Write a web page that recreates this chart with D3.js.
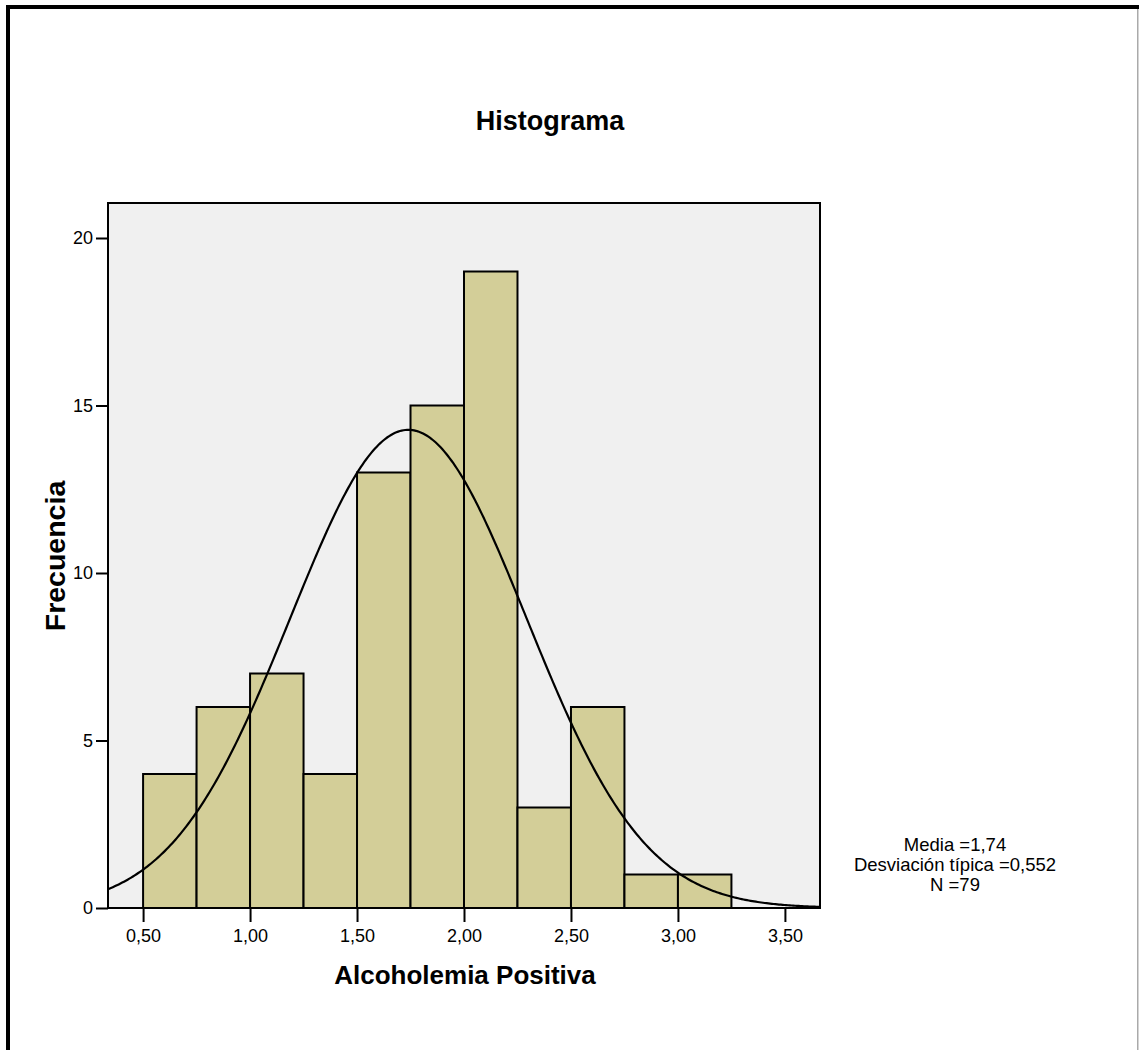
<!DOCTYPE html>
<html>
<head>
<meta charset="utf-8">
<script src="https://cdn.jsdelivr.net/npm/d3@7"></script>
<style>
  body { margin: 0; background: #fff; }
  text { font-family: "Liberation Sans", Arial, sans-serif; }
</style>
</head>
<body>
<div id="chart"></div>
<script>
// histogram data
var binStarts = [0.50, 0.75, 1.00, 1.25, 1.50, 1.75, 2.00, 2.25, 2.50, 2.75, 3.00];
var counts = [4, 6, 7, 4, 13, 15, 19, 3, 6, 1, 1];
var binWidth = 0.25;
var xTicks = [0.5, 1.0, 1.5, 2.0, 2.5, 3.0, 3.5];
var yTicks = [0, 5, 10, 15, 20];
var statLabels = ["Media =1,74", "Desviación típica =0,552", "N =79"];
var media = 1.74, desviacion = 0.552, n = 79;

var width = 1139, height = 1050;
var plot = { left: 108, top: 203, right: 820, bottom: 908 };

var es = d3.formatLocale({ decimal: ",", thousands: ".", grouping: [3], currency: ["", ""] });
var fmt = es.format(".2f");

var svg = d3.select("#chart").append("svg")
  .attr("width", width)
  .attr("height", height);

svg.append("rect").attr("width", width).attr("height", height).attr("fill", "#fff");

// outer frame (top, left, right edges only)
svg.append("rect").attr("x", 6).attr("y", 5).attr("width", width - 6).attr("height", 4).attr("fill", "#000");
svg.append("rect").attr("x", 6).attr("y", 5).attr("width", 4).attr("height", height - 5).attr("fill", "#000");
svg.append("rect").attr("x", 1137).attr("y", 9).attr("width", 1.5).attr("height", height).attr("fill", "#aaa");

var x = d3.scaleLinear().domain([0.336, 3.664]).range([plot.left, plot.right]);
var y = d3.scaleLinear().domain([0, 20]).range([plot.bottom, plot.bottom - 670]);

// plot background
svg.append("rect")
  .attr("x", plot.left).attr("y", plot.top)
  .attr("width", plot.right - plot.left).attr("height", plot.bottom - plot.top)
  .attr("fill", "#f0f0f0");

var bins = binStarts.map(function (s, i) { return { x0: s, x1: s + binWidth, count: counts[i] }; });

svg.append("g").selectAll("rect")
  .data(bins)
  .join("rect")
  .attr("x", d => x(d.x0))
  .attr("y", d => y(d.count))
  .attr("width", d => x(d.x1) - x(d.x0))
  .attr("height", d => y(0) - y(d.count))
  .attr("fill", "#d3ce98")
  .attr("stroke", "#000")
  .attr("stroke-width", 2);

// normal curve from the stated mean / sd
var curve = d3.range(0, 401).map(function (i) {
  var v = x.domain()[0] + (x.domain()[1] - x.domain()[0]) * i / 400;
  var z = (v - media) / desviacion;
  var f = n * binWidth / (desviacion * Math.sqrt(2 * Math.PI)) * Math.exp(-0.5 * z * z);
  return [v, f];
});

svg.append("path")
  .datum(curve)
  .attr("fill", "none")
  .attr("stroke", "#000")
  .attr("stroke-width", 2.2)
  .attr("d", d3.line().x(d => x(d[0])).y(d => y(d[1])));

// plot frame
svg.append("rect")
  .attr("x", plot.left).attr("y", plot.top)
  .attr("width", plot.right - plot.left).attr("height", plot.bottom - plot.top)
  .attr("fill", "none")
  .attr("stroke", "#000")
  .attr("stroke-width", 2);

// axes
var xAxis = svg.append("g")
  .attr("transform", `translate(0,${plot.bottom})`)
  .call(d3.axisBottom(x).tickValues(xTicks).tickFormat(fmt).tickSize(14).tickPadding(7));
var yAxis = svg.append("g")
  .attr("transform", `translate(${plot.left},0)`)
  .call(d3.axisLeft(y).tickValues(yTicks).tickSize(12).tickPadding(3));

[xAxis, yAxis].forEach(function (a) {
  a.select(".domain").remove();
  a.selectAll(".tick line").attr("stroke", "#000").attr("stroke-width", 2);
  a.selectAll(".tick text")
    .attr("fill", "#000")
    .attr("font-size", 18)
    .style("font-family", "'Liberation Sans', Arial, sans-serif");
});

// titles
svg.append("text")
  .attr("x", 550).attr("y", 130)
  .attr("text-anchor", "middle")
  .attr("font-size", 27)
  .attr("font-weight", "bold")
  .text("Histograma");

svg.append("text")
  .attr("x", 465).attr("y", 984)
  .attr("text-anchor", "middle")
  .attr("font-size", 26)
  .attr("font-weight", "bold")
  .text("Alcoholemia Positiva");

svg.append("text")
  .attr("transform", "translate(65,556) rotate(-90)")
  .attr("text-anchor", "middle")
  .attr("font-size", 28.5)
  .attr("font-weight", "bold")
  .text("Frecuencia");

// stats block
svg.append("g").selectAll("text")
  .data(statLabels)
  .join("text")
  .attr("x", 955)
  .attr("y", (d, i) => 851 + i * 20)
  .attr("text-anchor", "middle")
  .attr("font-size", 18.5)
  .text(d => d);
</script>
</body>
</html>
